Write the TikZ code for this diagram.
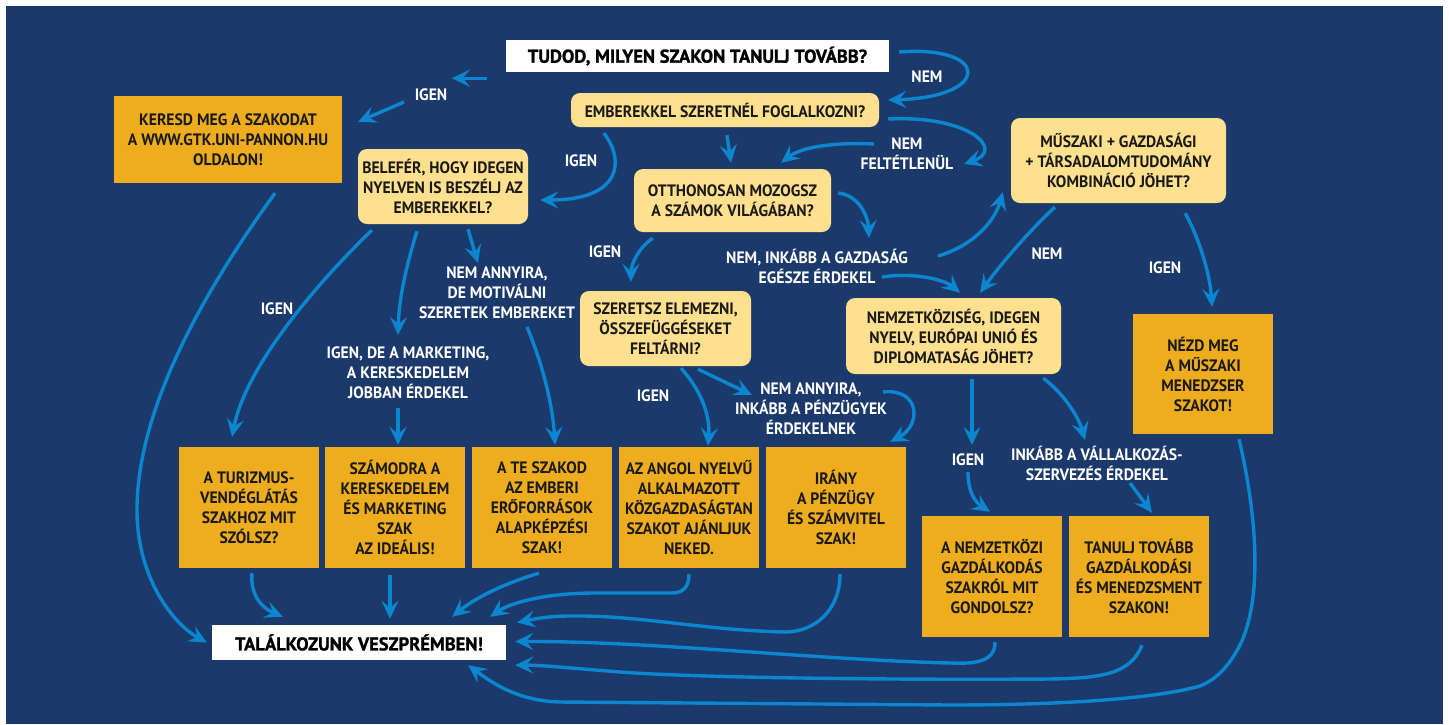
\documentclass[tikz,border=0pt]{standalone}
\usepackage{fontspec}
\setmainfont{PT Sans}[FakeStretch=0.95]
\newfontfamily\ttlfam{PT Sans}[BoldFeatures={FakeBold=1.2}]
\usetikzlibrary{arrows.meta}
\definecolor{bgnavy}{HTML}{1B3A6B}
\definecolor{boxlight}{HTML}{FFE08F}
\definecolor{boxorange}{HTML}{EEAC1F}
\definecolor{arrowblue}{HTML}{0B86CF}
\definecolor{ink}{HTML}{1A1A1A}
\newcommand{\bxfont}{\bfseries\fontsize{16.5}{20}\selectfont}
\newcommand{\ttlfont}{\ttlfam\bfseries\fontsize{18.5}{22}\selectfont}
\begin{document}
\begin{tikzpicture}[x=1pt,y=-1pt,
  lbox/.style={fill=boxlight,rounded corners=9pt,align=center,text=ink,inner sep=0pt,font=\bxfont},
  obox/.style={fill=boxorange,align=center,text=ink,inner sep=0pt,font=\bxfont,minimum width=140pt,minimum height=121pt},
  wbox/.style={fill=white,align=center,text=black,inner sep=0pt,font=\ttlfont},
  lab/.style={text=white,align=center,inner sep=0pt,font=\bxfont},
  arr/.style={draw=arrowblue,line width=3.4pt,-{Stealth[length=18pt,width=17pt,inset=7pt]}}]
\useasboundingbox (0,0) rectangle (1449,724);
\fill[white] (0,0) rectangle (1449,724);
\fill[bgnavy] (6,6) rectangle (1443,724);

% boxes
\node[wbox,minimum width=383pt,minimum height=32pt] (title) at (697.5,56) {TUDOD, MILYEN SZAKON TANULJ TOVÁBB?};
\node[lbox,minimum width=308pt,minimum height=34pt] (emb) at (725,110) {EMBEREKKEL SZERETNÉL FOGLALKOZNI?};
\node[obox,minimum width=228pt,minimum height=87pt] (keresd) at (228,139.5) {KERESD MEG A SZAKODAT\\A WWW.GTK.UNI-PANNON.HU\\OLDALON!};
\node[lbox,minimum width=170pt,minimum height=75pt] (belefer) at (443,186.5) {BELEFÉR, HOGY IDEGEN\\NYELVEN IS BESZÉLJ AZ\\EMBEREKKEL?};
\node[lbox,minimum width=197pt,minimum height=63pt] (otth) at (732.5,200.5) {OTTHONOSAN MOZOGSZ\\A SZÁMOK VILÁGÁBAN?};
\node[lbox,minimum width=215pt,minimum height=85pt] (muszaki) at (1118.5,160.5) {MŰSZAKI + GAZDASÁGI\\+ TÁRSADALOMTUDOMÁNY\\KOMBINÁCIÓ JÖHET?};
\node[lbox,minimum width=171pt,minimum height=75pt] (szeretsz) at (665.5,328.5) {SZERETSZ ELEMEZNI,\\ÖSSZEFÜGGÉSEKET\\FELTÁRNI?};
\node[lbox,minimum width=215pt,minimum height=76pt] (nemzetk) at (953.5,336) {NEMZETKÖZISÉG, IDEGEN\\NYELV, EURÓPAI UNIÓ ÉS\\DIPLOMATASÁG JÖHET?};
\node[obox,minimum height=120pt] (nezd) at (1203,374) {NÉZD MEG\\A MŰSZAKI\\MENEDZSER\\SZAKOT!};
\node[obox] (tur) at (249,507.5) {A TURIZMUS-\\VENDÉGLÁTÁS\\SZAKHOZ MIT\\SZÓLSZ?};
\node[obox] (szamodra) at (395,507.5) {SZÁMODRA A\\KERESKEDELEM\\ÉS MARKETING\\SZAK\\AZ IDEÁLIS!};
\node[obox] (tesz) at (542,507.5) {A TE SZAKOD\\AZ EMBERI\\ERŐFORRÁSOK\\ALAPKÉPZÉSI\\SZAK!};
\node[obox] (angol) at (689,507.5) {AZ ANGOL NYELVŰ\\ALKALMAZOTT\\KÖZGAZDASÁGTAN\\SZAKOT AJÁNLJUK\\NEKED.};
\node[obox] (irany) at (836,507.5) {IRÁNY\\A PÉNZÜGY\\ÉS SZÁMVITEL\\SZAK!};
\node[obox] (anemz) at (992,576.5) {A NEMZETKÖZI\\GAZDÁLKODÁS\\SZAKRÓL MIT\\GONDOLSZ?};
\node[obox] (tanulj) at (1139,576.5) {TANULJ TOVÁBB\\GAZDÁLKODÁSI\\ÉS MENEDZSMENT\\SZAKON!};
\node[wbox,minimum width=294pt,minimum height=35pt] (talal) at (359,642.5) {TALÁLKOZUNK VESZPRÉMBEN!};

% labels
\node[lab] (lIgen1) at (431,95) {IGEN};
\node[lab] (lNem1) at (927,77) {NEM};
\node[lab] (lIgen2) at (581,161) {IGEN};
\node[lab] (lNemF) at (907,154) {NEM\\FELTÉTLENÜL};
\node[lab] (lIgen3) at (605,252) {IGEN};
\node[lab] (lNemInk) at (817,266) {NEM, INKÁBB A GAZDASÁG\\EGÉSZE ÉRDEKEL};
\node[lab] (lNem2) at (1047,254) {NEM};
\node[lab] (lIgen4) at (1165,268) {IGEN};
\node[lab] (lIgen5) at (277,309) {IGEN};
\node[lab] (lIgenDe) at (408,373) {IGEN, DE A MARKETING,\\A KERESKEDELEM\\JOBBAN ÉRDEKEL};
\node[lab] (lNemAnny) at (497,293) {NEM ANNYIRA,\\DE MOTIVÁLNI\\SZERETEK EMBEREKET};
\node[lab] (lIgen6) at (653,396) {IGEN};
\node[lab] (lNemAnny2) at (811,409) {NEM ANNYIRA,\\INKÁBB A PÉNZÜGYEK\\ÉRDEKELNEK};
\node[lab] (lIgen7) at (968,460) {IGEN};
\node[lab] (lInkabb) at (1097,463) {INKÁBB A VÁLLALKOZÁS-\\SZERVEZÉS ÉRDEKEL};

% arrows
\draw[arr] ([shift={(-19,6)}]title.south west) -- ++(-35,0);
\draw[arr] ([shift={(-27,7)}]lIgen1.center) -- ([shift={(16,26)}]keresd.north east);
\draw[arr] ([shift={(10,-4)}]title.east) .. controls (990,45) and (992,97) .. ([shift={(9,-10)}]emb.east);
\draw[arr] ([shift={(33,6)}]emb.south west) .. controls (625,160) and (622,200) .. ([shift={(12,13.5)}]belefer.east);
\draw[arr] ([shift={(2,8)}]emb.south) -- ([shift={(-1.5,-6)}]otth.north);
\draw[arr] ([shift={(9,9)}]emb.east) .. controls (970,115) and (1005,150) .. ([shift={(57,10)}]lNemF.center);
\draw[arr] ([shift={(-33,-10)}]lNemF.center) .. controls (830,142) and (800,148) .. ([shift={(-50,-6)}]otth.north east);
\draw[arr] ([shift={(7,-7.5)}]otth.east) .. controls (858,195) and (868,215) .. ([shift={(52,-28)}]lNemInk.center);
\draw[arr] ([shift={(19,6)}]otth.south west) .. controls (638,248) and (631,265) .. ([shift={(-34.5,-9)}]szeretsz.north);
\draw[arr] ([shift={(65,11)}]lNemInk.center) .. controls (915,272) and (945,280) .. ([shift={(6.5,-5)}]nemzetk.north);
\draw[arr] ([shift={(121,-10)}]lNemInk.center) .. controls (975,245) and (995,220) .. ([shift={(-8,-11)}]muszaki.south west);
\draw[arr] ([shift={(44,4)}]muszaki.south west) .. controls (1030,230) and (1000,265) .. ([shift={(26.5,-5)}]nemzetk.north);
\draw[arr] ([shift={(-41,10)}]muszaki.south east) .. controls (1200,240) and (1210,275) .. ([shift={(9,-7)}]nezd.north);
\draw[arr] ([shift={(14,6)}]belefer.south west) .. controls (310,290) and (245,370) .. ([shift={(-17,-10)}]tur.north);
\draw[arr] ([shift={(-26,7)}]belefer.south) .. controls (405,270) and (399,300) .. ([shift={(-10,-38)}]lIgenDe.center);
\draw[arr] ([shift={(-10,35)}]lIgenDe.center) -- ([shift={(3,-2)}]szamodra.north);
\draw[arr] ([shift={(25,5)}]belefer.south) -- ([shift={(-19,-30)}]lNemAnny.center);
\draw[arr] ([shift={(30,34)}]lNemAnny.center) .. controls (545,370) and (553,410) .. ([shift={(13,-2)}]tesz.north);
\draw[arr] ([shift={(47,10)}]keresd.south) .. controls (190,310) and (137,420) .. (137,510) .. controls (137,580) and (175,625) .. ([shift={(-5,0)}]talal.west);
\draw[arr] ([shift={(15.5,2)}]szeretsz.south) .. controls (705,395) and (710,420) .. ([shift={(19,-1)}]angol.north);
\draw[arr] ([shift={(32.5,3)}]szeretsz.south) -- ([shift={(-59,-14)}]lNemAnny2.center);
\draw[arr] ([shift={(72,-17)}]lNemAnny2.center) .. controls (920,388) and (922,425) .. ([shift={(-16,-5)}]irany.north east);
\draw[arr] ([shift={(18.5,5)}]nemzetk.south) -- ([shift={(4,-15)}]lIgen7.center);
\draw[arr] ([shift={(0,12)}]lIgen7.center) .. controls (968,492) and (975,502) .. ([shift={(-2,-4)}]anemz.north);
\draw[arr] ([shift={(-18,4)}]nemzetk.south east) .. controls (1062,392) and (1078,415) .. ([shift={(-12,-23)}]lInkabb.center);
\draw[arr] ([shift={(33,20)}]lInkabb.center) -- ([shift={(13,-3)}]tanulj.north);
% into talal
\draw[arr] ([shift={(3,5)}]tur.south) .. controls (250,595) and (262,608) .. ([shift={(71,-8)}]talal.north west);
\draw[arr] ([shift={(-5,7)}]szamodra.south) -- ([shift={(31,-6)}]talal.north);
\draw[arr] ([shift={(-3,5)}]tesz.south) .. controls (505,583) and (475,598) .. ([shift={(-54,-8)}]talal.north east);
\draw[arr] ([shift={(0,6)}]angol.south) .. controls (689,588) and (682,593) .. (672,593) -- (595,593) .. controls (545,593) and (510,603) .. ([shift={(-16,-8)}]talal.north east);
\draw[arr] ([shift={(4,6)}]irany.south) .. controls (840,610) and (815,632) .. (785,632) .. controls (700,630) and (640,615) .. (570,616) .. controls (545,616) and (530,620) .. ([shift={(11,-20)}]talal.east);
\draw[arr] ([shift={(3,5)}]anemz.south) .. controls (995,662) and (975,664) .. (950,663) .. controls (820,660) and (650,641) .. ([shift={(9,-1)}]talal.east);
\draw[arr] ([shift={(3,8)}]tanulj.south) .. controls (1130,675) and (1100,678) .. (1050,679) .. controls (900,680) and (700,678) .. (620,672) .. controls (570,668) and (540,665) .. ([shift={(9,5)}]talal.south east);
\draw[arr] ([shift={(36,5)}]nezd.south) .. controls (1258,520) and (1262,600) .. (1240,645) .. controls (1228,668) and (1215,680) .. (1200,686) .. controls (1150,700) and (1050,705) .. (950,705) -- (560,702) .. controls (520,701) and (495,685) .. ([shift={(-38,5)}]talal.south east);
\end{tikzpicture}
\end{document}
